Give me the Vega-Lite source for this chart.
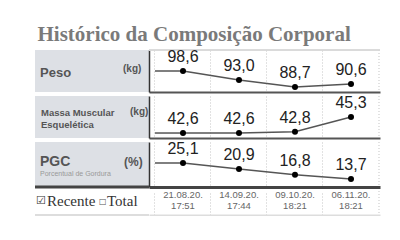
{
  "$schema": "https://vega.github.io/schema/vega-lite/v6.json",
  "background": "white",
  "padding": {"left": 33, "top": 24, "right": 0, "bottom": 0},
  "bounds": "flush",
  "columns": 2,
  "spacing": {"row": 4, "column": 0},
  "title": {"text": "Histórico da Composição Corporal", "font": "Liberation Serif", "fontSize": 21, "fontWeight": "bold", "color": "#7a7a7a", "anchor": "start", "dx": 4, "offset": 4},
  "config": {
    "view": {"stroke": null},
    "locale": {"number": {"decimal": ",", "thousands": ".", "grouping": [3], "currency": ["", ""]}}
  },
  "datasets": {
    "body": [
      {"metric": "Peso", "date": "21.08.20. 17:51", "value": 98.6},
      {"metric": "Peso", "date": "14.09.20. 17:44", "value": 93.0},
      {"metric": "Peso", "date": "09.10.20. 18:21", "value": 88.7},
      {"metric": "Peso", "date": "06.11.20. 18:21", "value": 90.6},
      {"metric": "MME", "date": "21.08.20. 17:51", "value": 42.6},
      {"metric": "MME", "date": "14.09.20. 17:44", "value": 42.6},
      {"metric": "MME", "date": "09.10.20. 18:21", "value": 42.8},
      {"metric": "MME", "date": "06.11.20. 18:21", "value": 45.3},
      {"metric": "PGC", "date": "21.08.20. 17:51", "value": 25.1},
      {"metric": "PGC", "date": "14.09.20. 17:44", "value": 20.9},
      {"metric": "PGC", "date": "09.10.20. 18:21", "value": 16.8},
      {"metric": "PGC", "date": "06.11.20. 18:21", "value": 13.7}
    ],
    "dates": [
      {"date": "21.08.20. 17:51", "day": "21.08.20.", "time": "17:51"},
      {"date": "14.09.20. 17:44", "day": "14.09.20.", "time": "17:44"},
      {"date": "09.10.20. 18:21", "day": "09.10.20.", "time": "18:21"},
      {"date": "06.11.20. 18:21", "day": "06.11.20.", "time": "18:21"}
    ]
  },
  "concat": [
    {
      "width": 114, "height": 42,
      "view": {"fill": "#dde0e5", "stroke": null},
      "data": {"values": [{"name": "Peso", "unit": "(kg)"}]},
      "layer": [
        {"mark": {"type": "text", "align": "left", "baseline": "alphabetic", "dx": -52, "dy": 6, "font": "Liberation Sans", "fontSize": 13, "fontWeight": "bold", "color": "#555"}, "encoding": {"text": {"field": "name"}}},
        {"mark": {"type": "text", "align": "left", "baseline": "alphabetic", "dx": 31, "dy": 1, "font": "Liberation Sans", "fontSize": 10, "fontWeight": "bold", "color": "#555"}, "encoding": {"text": {"field": "unit"}}}
      ]
    },
    {
      "width": 231, "height": 42,
      "data": {"name": "body"},
      "transform": [{"filter": "datum.metric === 'Peso'"}],
      "encoding": {
        "x": {"field": "date", "type": "ordinal", "sort": ["21.08.20. 17:51", "14.09.20. 17:44", "09.10.20. 18:21", "06.11.20. 18:21"], "scale": {"paddingInner": 0, "paddingOuter": 0.0625, "align": 0.857}, "axis": {"orient": "bottom", "labels": false, "ticks": false, "title": null, "domainColor": "#555", "domainWidth": 2, "grid": true, "gridColor": "#c4c4c4", "gridDash": [1, 2], "bandPosition": 0}},
        "y": {"field": "value", "type": "quantitative", "scale": {"domain": [85.6, 111.6], "zero": false, "nice": false}, "axis": {"labels": false, "ticks": false, "grid": false, "title": null, "domainColor": "#333", "domainWidth": 1.5}}
      },
      "layer": [
        {"transform": [{"filter": "datum.date === '06.11.20. 18:21'"}], "mark": {"type": "rule", "color": "#c4c4c4", "strokeDash": [1, 2]}, "encoding": {"x": {"field": "date", "type": "ordinal", "bandPosition": 1, "sort": ["21.08.20. 17:51", "14.09.20. 17:44", "09.10.20. 18:21", "06.11.20. 18:21"]}, "y": null}},
        {"mark": {"type": "rule", "color": "#d8d8d8", "strokeWidth": 1}, "encoding": {"x": null, "y": {"datum": 111.6, "type": "quantitative"}}},
        {"transform": [{"filter": "datum.date === '21.08.20. 17:51'"}], "mark": {"type": "tick", "orient": "horizontal", "size": 28, "thickness": 1.5, "xOffset": -14, "color": "#555", "opacity": 1}},
        {"mark": {"type": "line", "color": "#555", "strokeWidth": 1.5}},
        {"mark": {"type": "point", "filled": true, "color": "#000", "size": 36, "opacity": 1}},
        {"mark": {"type": "text", "baseline": "alphabetic", "dy": -9, "font": "Liberation Sans", "fontSize": 16, "color": "#222"}, "encoding": {"text": {"field": "value", "type": "quantitative", "format": ".1f"}}}
      ]
    },
    {
      "width": 114, "height": 42,
      "view": {"fill": "#dde0e5", "stroke": null},
      "data": {"values": [{"name1": "Massa Muscular", "name2": "Esquelética", "unit": "(kg)"}]},
      "layer": [
        {"mark": {"type": "text", "align": "left", "baseline": "alphabetic", "dx": -51, "dy": -1, "font": "Liberation Sans", "fontSize": 9.5, "fontWeight": "bold", "color": "#555"}, "encoding": {"text": {"field": "name1"}}},
        {"mark": {"type": "text", "align": "left", "baseline": "alphabetic", "dx": -51, "dy": 11, "font": "Liberation Sans", "fontSize": 9.5, "fontWeight": "bold", "color": "#555"}, "encoding": {"text": {"field": "name2"}}},
        {"mark": {"type": "text", "align": "left", "baseline": "alphabetic", "dx": 38, "dy": -2, "font": "Liberation Sans", "fontSize": 10, "fontWeight": "bold", "color": "#555"}, "encoding": {"text": {"field": "unit"}}}
      ]
    },
    {
      "width": 231, "height": 42,
      "data": {"name": "body"},
      "transform": [{"filter": "datum.metric === 'MME'"}],
      "encoding": {
        "x": {"field": "date", "type": "ordinal", "sort": ["21.08.20. 17:51", "14.09.20. 17:44", "09.10.20. 18:21", "06.11.20. 18:21"], "scale": {"paddingInner": 0, "paddingOuter": 0.0625, "align": 0.857}, "axis": {"orient": "bottom", "labels": false, "ticks": false, "title": null, "domainColor": "#555", "domainWidth": 2, "grid": true, "gridColor": "#c4c4c4", "gridDash": [1, 2], "bandPosition": 0}},
        "y": {"field": "value", "type": "quantitative", "scale": {"domain": [41.76, 48.84], "zero": false, "nice": false}, "axis": {"labels": false, "ticks": false, "grid": false, "title": null, "domainColor": "#333", "domainWidth": 1.5}}
      },
      "layer": [
        {"transform": [{"filter": "datum.date === '06.11.20. 18:21'"}], "mark": {"type": "rule", "color": "#c4c4c4", "strokeDash": [1, 2]}, "encoding": {"x": {"field": "date", "type": "ordinal", "bandPosition": 1, "sort": ["21.08.20. 17:51", "14.09.20. 17:44", "09.10.20. 18:21", "06.11.20. 18:21"]}, "y": null}},
        {"transform": [{"filter": "datum.date === '21.08.20. 17:51'"}], "mark": {"type": "tick", "orient": "horizontal", "size": 28, "thickness": 1.5, "xOffset": -14, "color": "#555", "opacity": 1}},
        {"mark": {"type": "line", "color": "#555", "strokeWidth": 1.5}},
        {"mark": {"type": "point", "filled": true, "color": "#000", "size": 36, "opacity": 1}},
        {"mark": {"type": "text", "baseline": "alphabetic", "dy": -9, "font": "Liberation Sans", "fontSize": 16, "color": "#222"}, "encoding": {"text": {"field": "value", "type": "quantitative", "format": ".1f"}}}
      ]
    },
    {
      "width": 114, "height": 45,
      "view": {"fill": "#dde0e5", "stroke": null},
      "data": {"values": [{"name": "PGC", "unit": "(%)", "sub": "Porcentual de Gordura"}]},
      "layer": [
        {"mark": {"type": "text", "align": "left", "baseline": "alphabetic", "dx": -52, "dy": 1.5, "font": "Liberation Sans", "fontSize": 14, "fontWeight": "bold", "color": "#555"}, "encoding": {"text": {"field": "name"}}},
        {"mark": {"type": "text", "align": "left", "baseline": "alphabetic", "dx": 32, "dy": 1.5, "font": "Liberation Sans", "fontSize": 12, "fontWeight": "bold", "color": "#555"}, "encoding": {"text": {"field": "unit"}}},
        {"mark": {"type": "text", "align": "left", "baseline": "alphabetic", "dx": -52, "dy": 11.5, "font": "Liberation Sans", "fontSize": 7, "color": "#999"}, "encoding": {"text": {"field": "sub"}}}
      ]
    },
    {
      "width": 231, "height": 45,
      "data": {"name": "body"},
      "transform": [{"filter": "datum.metric === 'PGC'"}],
      "encoding": {
        "x": {"field": "date", "type": "ordinal", "sort": ["21.08.20. 17:51", "14.09.20. 17:44", "09.10.20. 18:21", "06.11.20. 18:21"], "scale": {"paddingInner": 0, "paddingOuter": 0.0625, "align": 0.857}, "axis": {"orient": "bottom", "labels": false, "ticks": false, "title": null, "domainColor": "#444", "domainWidth": 3, "grid": true, "gridColor": "#c4c4c4", "gridDash": [1, 2], "bandPosition": 0}},
        "y": {"field": "value", "type": "quantitative", "scale": {"domain": [8.0, 40.06], "zero": false, "nice": false}, "axis": {"labels": false, "ticks": false, "grid": false, "title": null, "domainColor": "#333", "domainWidth": 1.5}}
      },
      "layer": [
        {"transform": [{"filter": "datum.date === '06.11.20. 18:21'"}], "mark": {"type": "rule", "color": "#c4c4c4", "strokeDash": [1, 2]}, "encoding": {"x": {"field": "date", "type": "ordinal", "bandPosition": 1, "sort": ["21.08.20. 17:51", "14.09.20. 17:44", "09.10.20. 18:21", "06.11.20. 18:21"]}, "y": null}},
        {"transform": [{"filter": "datum.date === '21.08.20. 17:51'"}], "mark": {"type": "tick", "orient": "horizontal", "size": 28, "thickness": 1.5, "xOffset": -14, "color": "#555", "opacity": 1}},
        {"mark": {"type": "line", "color": "#555", "strokeWidth": 1.5}},
        {"mark": {"type": "point", "filled": true, "color": "#000", "size": 36, "opacity": 1}},
        {"mark": {"type": "text", "baseline": "alphabetic", "dy": -9, "font": "Liberation Sans", "fontSize": 16, "color": "#222"}, "encoding": {"text": {"field": "value", "type": "quantitative", "format": ".1f"}}}
      ]
    },
    {
      "width": 114, "height": 24,
      "data": {"values": [{"a": "Recente", "b": "Total"}]},
      "layer": [
        {"mark": {"type": "rule", "color": "#444", "strokeWidth": 3, "yOffset": -4}, "encoding": {"y": {"datum": 1, "type": "quantitative", "scale": {"domain": [0, 1]}, "axis": null}}},
        {"mark": {"type": "rule", "color": "#dddddd", "strokeWidth": 2}, "encoding": {"y": {"datum": 0, "type": "quantitative"}}},
        {"mark": {"type": "text", "align": "left", "baseline": "alphabetic", "dx": -56, "dy": 1, "font": "DejaVu Sans", "fontSize": 11, "color": "#333"}, "encoding": {"text": {"value": "☑"}}},
        {"mark": {"type": "text", "align": "left", "baseline": "alphabetic", "dx": -45, "dy": 3, "font": "Liberation Serif", "fontSize": 15, "color": "#333"}, "encoding": {"text": {"field": "a"}}},
        {"mark": {"type": "text", "align": "left", "baseline": "alphabetic", "dx": 7, "dy": 1, "font": "DejaVu Sans", "fontSize": 8, "color": "#555"}, "encoding": {"text": {"value": "□"}}},
        {"mark": {"type": "text", "align": "left", "baseline": "alphabetic", "dx": 15, "dy": 3, "font": "Liberation Serif", "fontSize": 15, "color": "#333"}, "encoding": {"text": {"field": "b"}}}
      ]
    },
    {
      "width": 231, "height": 24,
      "data": {"name": "dates"},
      "encoding": {
        "x": {"field": "date", "type": "ordinal", "sort": ["21.08.20. 17:51", "14.09.20. 17:44", "09.10.20. 18:21", "06.11.20. 18:21"], "scale": {"paddingInner": 0, "paddingOuter": 0.0625, "align": 0.857}, "axis": {"orient": "bottom", "labels": false, "ticks": false, "title": null, "domainColor": "#dddddd", "domainWidth": 2, "grid": true, "gridColor": "#c4c4c4", "gridDash": [1, 2], "bandPosition": 0}}
      },
      "layer": [
        {"transform": [{"filter": "datum.date === '06.11.20. 18:21'"}], "mark": {"type": "rule", "color": "#c4c4c4", "strokeDash": [1, 2]}, "encoding": {"x": {"field": "date", "type": "ordinal", "bandPosition": 1, "sort": ["21.08.20. 17:51", "14.09.20. 17:44", "09.10.20. 18:21", "06.11.20. 18:21"]}}},
        {"mark": {"type": "text", "baseline": "alphabetic", "dy": -5.5, "font": "Liberation Sans", "fontSize": 9.5, "color": "#666"}, "encoding": {"text": {"field": "day"}}},
        {"mark": {"type": "text", "baseline": "alphabetic", "dy": 5.5, "font": "Liberation Sans", "fontSize": 9.5, "color": "#666"}, "encoding": {"text": {"field": "time"}}}
      ]
    }
  ]
}
